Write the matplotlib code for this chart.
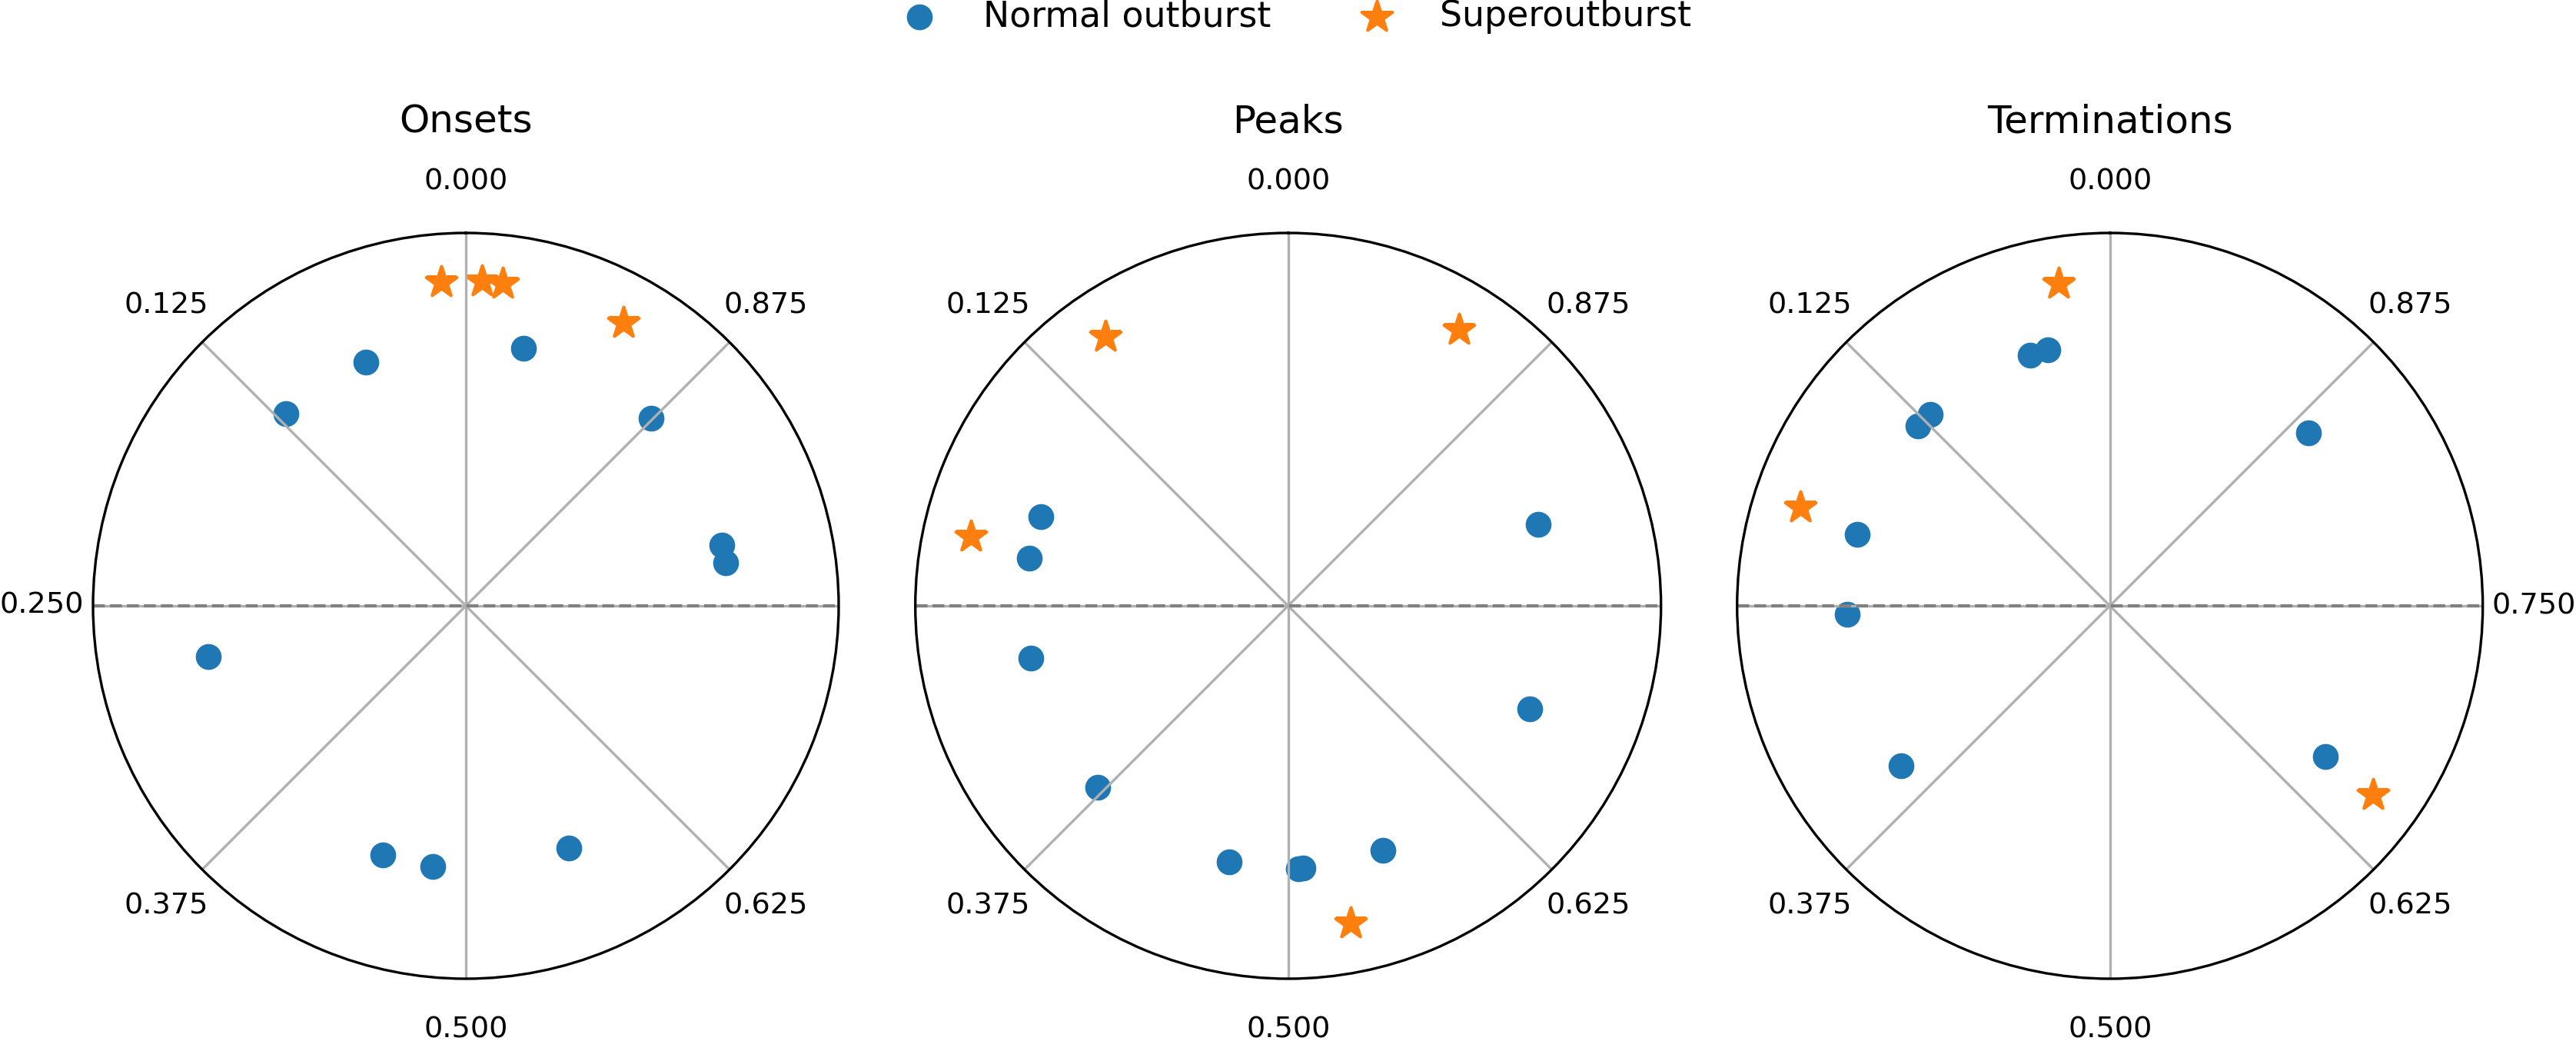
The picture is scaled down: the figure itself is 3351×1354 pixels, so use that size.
import numpy as np
import matplotlib
matplotlib.use("Agg")
import matplotlib.pyplot as plt

# ---------------- data ----------------
panel_titles = ["Onsets", "Peaks", "Terminations"]
legend_labels = ["Normal outburst", "Superoutburst"]

tick_phases = [0.0, 0.125, 0.25, 0.375, 0.5, 0.625, 0.75, 0.875]
tick_labels_onsets = ["0.000", "0.125", "0.250", "0.375", "0.500", "0.625", "", "0.875"]
tick_labels_peaks = ["0.000", "0.125", "", "0.375", "0.500", "0.625", "", "0.875"]
tick_labels_terminations = ["0.000", "0.125", "", "0.375", "0.500", "0.625", "0.750", "0.875"]

# phase (0..1) and radial position of each event
onsets_normal_phase = [0.965, 0.062, 0.120, 0.876, 0.787, 0.776, 0.281, 0.449, 0.480, 0.564]
onsets_normal_r = [0.707, 0.707, 0.706, 0.707, 0.706, 0.706, 0.704, 0.704, 0.704, 0.706]
onsets_super_phase = [0.012, 0.992, 0.982, 0.919]
onsets_super_r = [0.870, 0.872, 0.870, 0.869]

peaks_normal_phase = [0.195, 0.221, 0.282, 0.371, 0.464, 0.506, 0.509, 0.559, 0.686, 0.800]
peaks_normal_r = [0.706, 0.706, 0.705, 0.705, 0.705, 0.705, 0.705, 0.704, 0.705, 0.705]
peaks_super_phase = [0.095, 0.912, 0.216, 0.531]
peaks_super_r = [0.873, 0.871, 0.871, 0.867]

terminations_normal_phase = [0.049, 0.038, 0.120, 0.130, 0.864, 0.206, 0.255, 0.354, 0.653]
terminations_normal_r = [0.705, 0.707, 0.705, 0.705, 0.706, 0.705, 0.705, 0.705, 0.705]
terminations_super_phase = [0.025, 0.201, 0.651]
terminations_super_r = [0.874, 0.872, 0.869]

# ---------------- figure ----------------
W, H = 3351, 1354
DPI = 300
fig = plt.figure(figsize=(W / DPI, H / DPI), dpi=DPI)

radius_px = 485
centers_px = [(606, 788), (1675.7, 788), (2744.7, 788)]

panels = [
    (onsets_normal_phase, onsets_normal_r, onsets_super_phase, onsets_super_r, tick_labels_onsets),
    (peaks_normal_phase, peaks_normal_r, peaks_super_phase, peaks_super_r, tick_labels_peaks),
    (terminations_normal_phase, terminations_normal_r, terminations_super_phase,
     terminations_super_r, tick_labels_terminations),
]

handles = None
for (cx, cy), title, (nph, nr, sph, sr, tlabels) in zip(centers_px, panel_titles, panels):
    rect = [(cx - radius_px) / W, (H - cy - radius_px) / H, 2 * radius_px / W, 2 * radius_px / H]
    ax = fig.add_axes(rect, projection="polar")
    ax.set_theta_zero_location("N")
    ax.set_theta_direction(1)
    ax.set_ylim(0, 1)
    ax.set_yticks([])
    ax.set_xticks(2 * np.pi * np.array(tick_phases))
    ax.set_xticklabels(tlabels)
    ax.tick_params(axis="x", pad=5.5, labelsize=9.2)
    ax.grid(True, color="#b0b0b0", linewidth=0.8)

    h1 = ax.scatter(2 * np.pi * np.array(nph), nr, s=50, color="C0", label=legend_labels[0])
    h2 = ax.scatter(2 * np.pi * np.array(sph), sr, s=100, marker="*", color="C1",
                    label=legend_labels[1])
    ax.plot(2 * np.pi * np.array([0.25, 0.75]), [1, 1], color="gray", linestyle="--",
            linewidth=1.0)
    ax.set_title(title, fontsize=12, y=1.135, pad=0)
    if handles is None:
        handles = [h1, h2]

fig.legend(handles, legend_labels, loc="center", bbox_to_anchor=(0.5, 1 - 22 / H),
           ncol=2, frameon=False, fontsize=11)

fig.savefig("out.png", dpi=DPI)
